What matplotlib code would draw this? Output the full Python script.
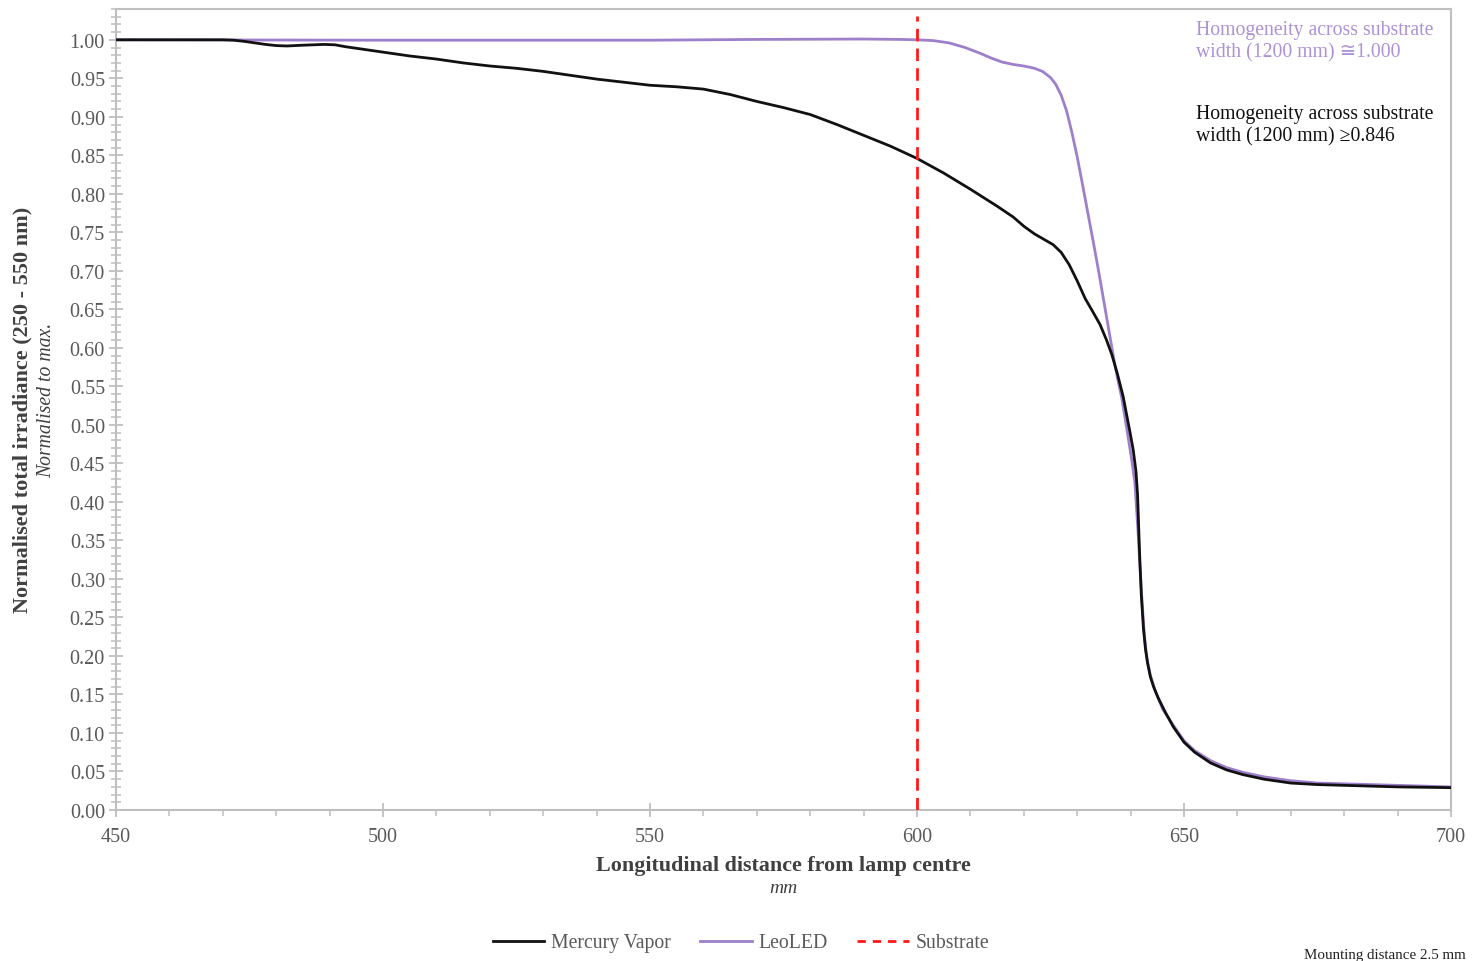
import matplotlib
matplotlib.use("Agg")
import matplotlib.pyplot as plt
from matplotlib.ticker import MultipleLocator, FixedLocator, FormatStrFormatter
from matplotlib.lines import Line2D

# ---- data ----
mv_x = [450, 460, 470, 472, 474, 476, 478, 480, 482, 485, 489, 491, 493, 495, 497, 500, 505,
        510, 515, 520, 525, 530, 535, 540, 545, 550, 555, 560, 565, 570, 575, 580, 585, 590,
        595, 600, 605, 610, 615, 618, 620, 622, 624, 625.5, 627, 628.5, 630, 631.5, 633,
        634.3, 635.5, 636.5, 637.5, 638.6, 639.4, 639.9, 640.5, 641.0, 641.3, 641.7, 642.0,
        642.4, 642.8, 643.2, 643.7, 644.3, 645.2, 646.5, 648, 650, 652, 655, 658, 661, 665,
        670, 675, 680, 690, 700]
mv_y = [1.000, 1.000, 1.000, 0.9995, 0.998, 0.996, 0.994, 0.9925, 0.992, 0.993, 0.994,
        0.9935, 0.991, 0.989, 0.987, 0.984, 0.979, 0.975, 0.970, 0.966, 0.963, 0.959, 0.954,
        0.949, 0.945, 0.941, 0.939, 0.936, 0.929, 0.920, 0.912, 0.903, 0.890, 0.876, 0.862,
        0.846, 0.827, 0.806, 0.784, 0.770, 0.758, 0.748, 0.740, 0.734, 0.724, 0.708, 0.687,
        0.664, 0.646, 0.630, 0.610, 0.591, 0.567, 0.537, 0.508, 0.490, 0.467, 0.440, 0.410,
        0.330, 0.280, 0.236, 0.208, 0.190, 0.173, 0.160, 0.145, 0.127, 0.108, 0.088, 0.075,
        0.061, 0.052, 0.046, 0.040, 0.035, 0.033, 0.032, 0.030, 0.029]

led_x = [450, 500, 550, 570, 590, 597, 600, 603, 606, 609, 612, 614, 616, 618, 620, 622,
         623.5, 625, 626, 627, 628, 629, 630, 631, 632, 633, 634, 635, 636, 637, 637.6, 638.4,
         639.4, 640.2, 640.8, 641.4, 641.8, 642.2, 642.6, 643.1, 643.7, 644.6, 646, 648, 650,
         652, 655, 658, 661, 665, 670, 675, 680, 690, 700]
led_y = [1.000, 0.9995, 0.9995, 1.0005, 1.001, 1.0005, 1.000, 0.999, 0.996, 0.990, 0.982,
         0.976, 0.971, 0.968, 0.966, 0.963, 0.959, 0.951, 0.942, 0.928, 0.908, 0.880, 0.848,
         0.812, 0.775, 0.738, 0.700, 0.660, 0.620, 0.580, 0.559, 0.533, 0.490, 0.455, 0.425,
         0.360, 0.310, 0.265, 0.225, 0.195, 0.175, 0.155, 0.131, 0.110, 0.090, 0.077, 0.064,
         0.055, 0.049, 0.043, 0.038, 0.035, 0.034, 0.032, 0.030]

substrate_x = 600
series_labels = ["Mercury Vapor", "LeoLED", "Substrate"]
y_major_ticks = [0.00, 0.05, 0.10, 0.15, 0.20, 0.25, 0.30, 0.35, 0.40, 0.45, 0.50,
                 0.55, 0.60, 0.65, 0.70, 0.75, 0.80, 0.85, 0.90, 0.95, 1.00]
x_label = "Longitudinal distance from lamp centre"
x_unit = "mm"
y_label = "Normalised total irradiance (250 - 550 nm)"
y_sub = "Normalised to max."
note_led = "Homogeneity across substrate\nwidth (1200 mm) \u22451.000"
note_mv = "Homogeneity across substrate\nwidth (1200 mm) \u22650.846"
footer = "Mounting distance 2.5 mm"

# ---- style ----
FONT = ["Liberation Serif", "DejaVu Serif", "DejaVu Sans"]
plt.rcParams["font.family"] = FONT
C_MV = "#111111"
C_LED = "#9E7FCB"
C_LED_TXT = "#AE92D6"
C_SUB = "#FF1A1A"
C_GRID = "#BFBFBF"
C_TICK = "#595959"

fig = plt.figure(figsize=(14.72, 9.62), dpi=100)
ax = fig.add_axes([116/1472, 1 - 811/962, (1451-116)/1472, (811-10)/962])

ax.plot(led_x, led_y, color=C_LED, lw=2.0, zorder=3, solid_joinstyle="round")
ax.plot(mv_x, mv_y, color=C_MV, lw=2.0, zorder=4, solid_joinstyle="round")
ax.axvline(substrate_x, ymin=0, ymax=1.031/1.04, color=C_SUB, lw=2.0,
           dashes=(4.5, 2.6), zorder=5)

ax.xaxis.set_major_locator(MultipleLocator(50))
ax.xaxis.set_minor_locator(MultipleLocator(10))
ax.yaxis.set_major_locator(FixedLocator(y_major_ticks))
ax.yaxis.set_minor_locator(MultipleLocator(0.01))
ax.yaxis.set_major_formatter(FormatStrFormatter("%.2f"))
ax.set_xlim(450, 700)
ax.set_ylim(0, 1.04)

for s in ax.spines.values():
    s.set_color(C_GRID)
    s.set_linewidth(1.5)

ax.tick_params(axis="y", which="major", direction="inout", length=10, width=1.3,
               color=C_GRID, labelsize=14.5, labelcolor=C_TICK, pad=3)
ax.tick_params(axis="y", which="minor", direction="inout", length=7, width=1.1, color=C_GRID)
ax.tick_params(axis="x", which="major", direction="inout", length=10, width=1.3,
               color=C_GRID, labelsize=14.5, labelcolor=C_TICK, pad=7)
ax.tick_params(axis="x", which="minor", direction="out", length=4, width=1.1, color=C_GRID)

# axis titles
fig.text(783/1472, 1 - 866/962, x_label, ha="center", va="center", fontsize=15.8,
         fontweight="bold", color="#404040")
fig.text(783/1472, 1 - 889/962, x_unit, ha="center", va="center", fontsize=14,
         style="italic", color="#404040")
fig.text(22/1472, 1 - 410/962, y_label, ha="center", va="center", fontsize=16,
         fontweight="bold", color="#404040", rotation=90)
fig.text(47/1472, 1 - 400/962, y_sub, ha="center", va="center", fontsize=14.2,
         style="italic", color="#404040", rotation=90)

# annotations
fig.text(1196/1472, 1 - 42/962, note_led, ha="left", va="center", fontsize=14.2,
         color=C_LED_TXT, linespacing=1.2)
fig.text(1196/1472, 1 - 126/962, note_mv, ha="left", va="center", fontsize=14.2,
         color="#111111", linespacing=1.2)

# legend
handles = [Line2D([], [], color=C_MV, lw=2.0),
           Line2D([], [], color=C_LED, lw=2.0),
           Line2D([], [], color=C_SUB, lw=2.0, dashes=(3, 2.5))]
leg = fig.legend(handles, series_labels, loc="center", bbox_to_anchor=(741/1472, 1 - 944/962),
                 ncol=3, frameon=False, fontsize=14.2, handlelength=2.6, columnspacing=1.5,
                 handletextpad=0.35)
for t in leg.get_texts():
    t.set_color(C_TICK)

fig.text(1466/1472, 1 - 956/962, footer, ha="right", va="center", fontsize=10.8,
         color="#222222")

fig.savefig("out.png", dpi=100)
